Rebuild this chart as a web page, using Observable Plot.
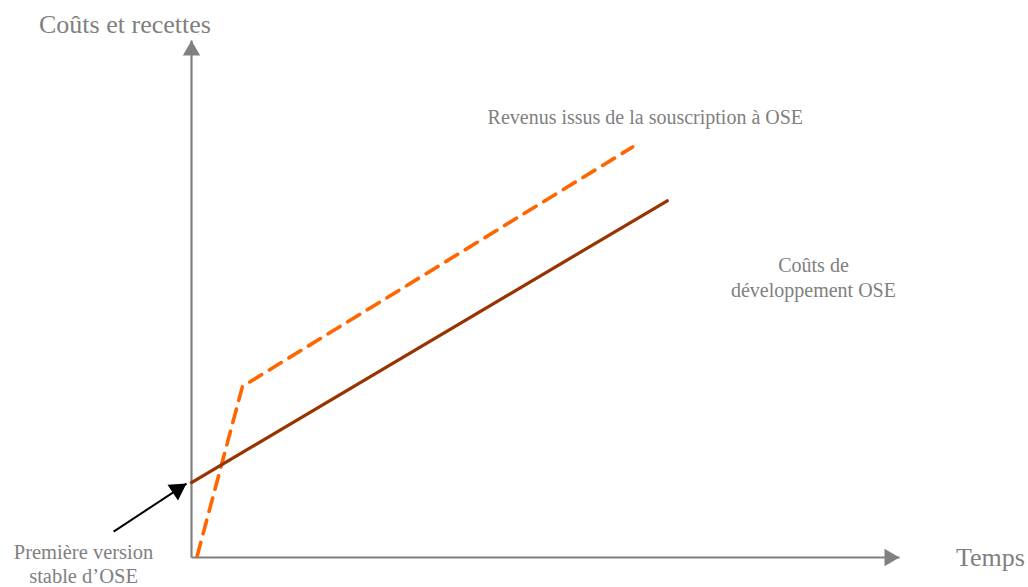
<!DOCTYPE html>
<html>
<head>
<meta charset="utf-8">
<script src="https://cdn.jsdelivr.net/npm/d3@7"></script>
<script src="https://cdn.jsdelivr.net/npm/@observablehq/plot@0.6"></script>
<style>
  html, body { margin: 0; padding: 0; background: #ffffff; overflow: hidden; }
  svg { display: block; }
</style>
</head>
<body>
<div id="chart"></div>
<script>
// ---- Data (abstract units 0–100) ----
const costTime = [0, 67.2];            // Coûts de développement OSE
const costValue = [14.5, 69.0];
const revenueTime = [0.8, 7.2, 62.3];   // Revenus issus de la souscription à OSE
const revenueValue = [0.3, 33.1, 79.4];

const axisTitleX = "Temps";
const axisTitleY = "Coûts et recettes";
const costLabel = "Coûts de\ndéveloppement OSE";
const revenueLabel = "Revenus issus de la souscription à OSE";
const releaseLabel = "Première version\nstable d’OSE";

// annotation anchors (data units)
const releasePoint = [{x1: -11.0, y1: 5.0, x2: -0.7, y2: 14.3}];
const labelRows = [
  {text: axisTitleY, x: -9.4, y: 101.5, size: 26},
  {text: axisTitleX, x: 112.85, y: -1.55, size: 26},
  {text: revenueLabel, x: 64.1, y: 83.9, size: 20},
];

const cost = costTime.map((t, i) => ({t, v: costValue[i]}));
const revenue = revenueTime.map((t, i) => ({t, v: revenueValue[i]}));

const gray = "#808080";
const serif = "Liberation Serif, Times New Roman, serif";

const chart = Plot.plot({
  width: 1028,
  height: 587,
  margin: 0,
  x: {domain: [0, 100], range: [191, 899], axis: null},
  y: {domain: [0, 100], range: [557, 40], axis: null},
  style: {background: "#ffffff", fontFamily: serif},
  marks: [
    // axes with arrowheads
    Plot.link([{x1: 0, y1: 0, x2: 0, y2: 100}, {x1: 0, y1: 0, x2: 100, y2: 0}],
      {x1: "x1", y1: "y1", x2: "x2", y2: "y2", stroke: gray, strokeWidth: 2.2}),
    Plot.dot([{x: 0, y: 100}], {x: "x", y: "y", symbol: "triangle", r: 6.43, fill: gray, stroke: "none", dy: 10}),
    Plot.dot([{x: 100, y: 0}], {x: "x", y: "y", symbol: "triangle", r: 6.43, fill: gray, stroke: "none", rotate: 90, dx: -10}),
    // series
    Plot.line(revenue, {x: "t", y: "v", stroke: "#ff6600", strokeWidth: 3.6, strokeDasharray: "14,9", strokeLinejoin: "round"}),
    Plot.line(cost, {x: "t", y: "v", stroke: "#993300", strokeWidth: 3.2}),
    // release arrow
    Plot.link(releasePoint, {x1: "x1", y1: "y1", x2: "x2", y2: "y2", stroke: "#000000", strokeWidth: 2}),
    Plot.dot(releasePoint, {x: "x2", y: "y2", symbol: "triangle", r: 7.07, fill: "#000000", stroke: "none", rotate: 56.7, dx: -9.2, dy: 6.0}),
    // texts
    Plot.text(labelRows, {x: "x", y: "y", text: "text", fontSize: "size", fill: gray, lineAnchor: "bottom", textAnchor: "middle"}),
    Plot.text([costLabel], {x: 87.85, y: 50.3, text: d => d, fontSize: 20, fill: gray, lineAnchor: "bottom", lineHeight: 1.25, textAnchor: "middle"}),
    Plot.text([releaseLabel], {x: -15.25, y: -4.84, text: d => d, fontSize: 20.5, fill: gray, lineAnchor: "bottom", lineHeight: 1.17, textAnchor: "middle"})
  ]
});
document.getElementById("chart").appendChild(chart);
</script>
</body>
</html>
